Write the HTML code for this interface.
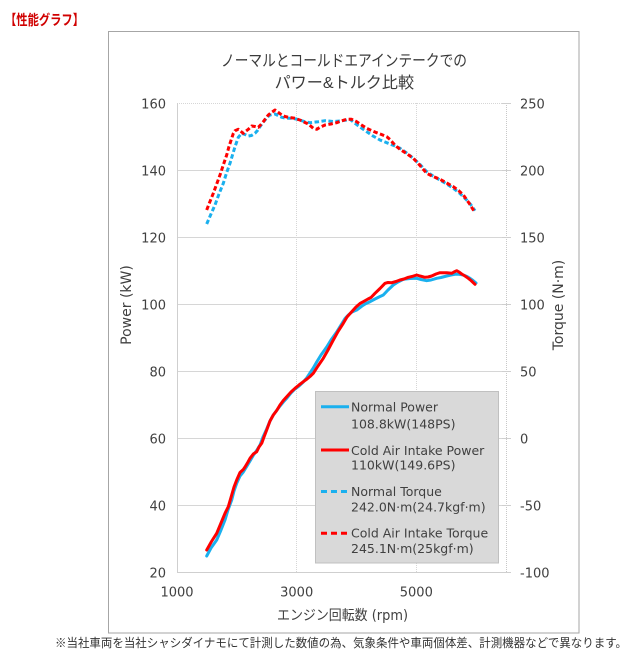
<!DOCTYPE html>
<html><head><meta charset="utf-8"><style>
html,body{margin:0;padding:0;background:#fff;}
svg{display:block;}
</style></head><body>
<svg width="640" height="669" viewBox="0 0 640 669" xmlns="http://www.w3.org/2000/svg">
<rect x="0" y="0" width="640" height="669" fill="#fff"/>
<text x="5" y="25" font-family="'Liberation Sans','Noto Sans CJK JP',sans-serif" font-size="14" font-weight="bold" fill="#d00000" textLength="79" lengthAdjust="spacingAndGlyphs">【性能グラフ】</text>
<rect x="108.5" y="31.5" width="470.5" height="601.5" fill="#fff" stroke="#a6a6a6" stroke-width="1"/>
<g font-family="'Liberation Sans','Noto Sans CJK JP',sans-serif" fill="#3a3a3a">
<text x="221" y="66" font-size="16" textLength="246" lengthAdjust="spacingAndGlyphs">ノーマルとコールドエアインテークでの</text>
<text x="274.6" y="88" font-size="16" textLength="139.5" lengthAdjust="spacingAndGlyphs">パワー&amp;トルク比較</text>
</g>
<!-- grid -->
<g stroke="#d6d6d6" stroke-width="1">
<line x1="177" y1="103.5" x2="506" y2="103.5" stroke-dasharray="1 1"/>
<line x1="177" y1="170.5" x2="506" y2="170.5"/>
<line x1="177" y1="237.5" x2="506" y2="237.5"/>
<line x1="177" y1="304.5" x2="506" y2="304.5"/>
<line x1="177" y1="371.5" x2="506" y2="371.5"/>
<line x1="177" y1="438.5" x2="506" y2="438.5"/>
<line x1="177" y1="505.5" x2="506" y2="505.5"/>
<line x1="296.5" y1="103" x2="296.5" y2="573" stroke-dasharray="1 1"/>
<line x1="416.5" y1="103" x2="416.5" y2="573" stroke-dasharray="1 1"/>
<line x1="506.5" y1="103" x2="506.5" y2="573" stroke-dasharray="1 1" stroke="#c8c8c8"/>
</g>
<g stroke="#cfcfcf" stroke-width="1">
<line x1="177.5" y1="103" x2="177.5" y2="573"/>
<line x1="177" y1="572.5" x2="506" y2="572.5"/>
<line x1="502" y1="103.5" x2="511" y2="103.5"/>
<line x1="502" y1="170.5" x2="511" y2="170.5"/>
<line x1="502" y1="237.5" x2="511" y2="237.5"/>
<line x1="502" y1="304.5" x2="511" y2="304.5"/>
<line x1="502" y1="371.5" x2="511" y2="371.5"/>
<line x1="502" y1="438.5" x2="511" y2="438.5"/>
<line x1="502" y1="505.5" x2="511" y2="505.5"/>
<line x1="502" y1="572.5" x2="511" y2="572.5"/>
</g>
<!-- tick labels -->
<g font-family="'DejaVu Sans','Liberation Sans',sans-serif" font-size="13" fill="#404040">
<g text-anchor="end">
<text x="166" y="108.5">160</text>
<text x="166" y="175.5">140</text>
<text x="166" y="242.5">120</text>
<text x="166" y="309.5">100</text>
<text x="166" y="376.5">80</text>
<text x="166" y="443.5">60</text>
<text x="166" y="510.5">40</text>
<text x="166" y="577.5">20</text>
</g>
<g>
<text x="520" y="108.5">250</text>
<text x="520" y="175.5">200</text>
<text x="520" y="242.5">150</text>
<text x="520" y="309.5">100</text>
<text x="520" y="376.5">50</text>
<text x="520" y="443.5">0</text>
<text x="520" y="510.5">-50</text>
<text x="520" y="577.5">-100</text>
</g>
<g text-anchor="middle">
<text x="177" y="596.5">1000</text>
<text x="296.7" y="596.5">3000</text>
<text x="416.3" y="596.5">5000</text>
</g>
<text transform="translate(131,305) rotate(-90)" text-anchor="middle" font-size="14">Power (kW)</text>
<text transform="translate(563,305) rotate(-90)" text-anchor="middle" font-size="14">Torque (N·m)</text>
</g>
<text x="277" y="620" font-family="'DejaVu Sans','Noto Sans CJK JP',sans-serif" font-size="14" fill="#404040" textLength="131" lengthAdjust="spacingAndGlyphs">エンジン回転数 (rpm)</text>
<!-- torque series -->
<g fill="none" stroke-width="3" stroke-linejoin="round" stroke-dasharray="4.5 2.5">
<polyline stroke="#1ab0ee" points="206.7,224 211,214 215,205 219,194 223.3,183.3 226.5,173 230,163.3 232.5,155 235,146.7 238.3,137.3 241.7,133.3 245,134.5 248.3,136 251.5,135.5 255,133.3 257.5,130.5 260,126.7 262.5,123 265,120 267.5,117 270,115 275,114 278,115.5 281.7,117.3 286.7,118.3 291.7,118.3 296,119 301.7,120.7 306,122 310,122.7 313.3,122.3 318.3,121.7 325,120.7 333,121.5 340,121 346.7,120 350,119.3 355,123.3 360.7,127.5 366.7,131.7 373,136 380,140 385,142 390,144 395,146 400,148.3 406,152.5 413.3,158.3 420,164.5 426.7,171.7 433,176 440,180 446.7,184 453.3,188.3 460,193.5 466.7,200 471,205 475,210.7"/>
<polyline stroke="#ff0000" points="206.7,210 210,201.5 213.3,193.3 216.7,184 220,175 223.3,165 226.7,155 229,146.5 231.7,138.3 233.3,133.5 235,130.7 238.3,129.3 241,131.5 243.3,133.3 246,131 248.3,129.3 251.7,126 255,126.5 258.3,127.3 261,124.5 263.3,121.7 266,118 268.3,115 271.5,112.5 275,110 278.5,112.5 281.7,115 285,116.5 288.3,117.3 295,118.3 301.7,120.7 305,122.5 308.3,124 313.3,128.3 316.7,129.3 320,127.3 325,125 331,124 336.7,122.7 341,121 346.7,119.3 351.7,119.3 356.7,121.7 361.5,125 366.7,128.3 371.5,130.5 376.7,132.7 381.5,134.5 386.7,136.7 390,139.5 393.3,143.3 396.5,146.5 400,149.3 406.5,153.5 413.3,158.3 420,165.5 426.7,173.3 433,176.5 440,179.3 446.7,183 453.3,186.7 458.5,190.5 463.3,195 469,203 475,212.7"/>
</g>
<!-- power series -->
<g fill="none" stroke-width="3" stroke-linejoin="round" stroke-linecap="round">
<polyline stroke="#1ab0ee" points="206.7,556 211,548 216.7,540 221,530 225,520 228,510 231.7,500 234,491 236.7,483.3 240,476 243.3,472 247,466 250,461 253.5,455 257,450 260,445 263,437 266.7,429 270,421 273.3,415 277,410 280,406 283.3,402 287,398 291,393 295,389 299,386 303.3,382 306.7,378 310,373 313.3,368 316.7,362 321,355 326.7,347 331,340 336.7,332 341,325 345,318.5 348.3,315 352,312 356.7,310 362,306 366,303.5 370,301.7 375,299 380,296.5 383.3,295 388,290 393.3,285 398,282 403.3,279.3 410,278.5 416.7,278.3 421,279.5 426.7,280.7 431,280 436.7,278.3 441,277.5 446.7,276 451,275 455,274.3 459,274.3 463.3,275 467,276.5 470,278.3 473,280.5 476,283"/>
<polyline stroke="#ff0000" points="206.7,550 211.5,541.5 216.7,533.3 221,523 225,513.3 228.3,506.7 231.7,495 234,487 236.7,480 240,472.5 243.3,469.5 245,467 248,462 250,458.3 253.3,454 256.7,451.7 259,447 261.7,443.3 264,437 266.7,430 270,421 273.3,415 276.7,410.5 280,405 283.3,400.5 286.7,396.7 291,392 295,388.3 299,385 303.3,381.7 307,379 310,376.5 313.3,373.3 318,366 323.3,358.3 328,350 333.3,340 338,331.5 343.3,323.3 347,317 351.7,311.7 356,307 360,303.5 363.3,301.7 368,299 371,297.5 375,293.3 380,288.5 385,283.3 388,282.5 391.7,282.7 396,281.5 400,280 404,279 408.3,277.3 412,276.5 416.7,275 420,276 425,277.3 428,277 431.7,276 436,274 440,272.7 446.7,272.7 451.7,273.3 454,272 456.7,270.7 459,272 461.7,274 465,276 468.3,278.3 471,280.5 475,284.3"/>
</g>
<!-- legend -->
<rect x="315.5" y="391.5" width="183" height="171.5" fill="#d9d9d9" stroke="#c0c0c0" stroke-width="1"/>
<g stroke-width="3" fill="none">
<line x1="321" y1="406.7" x2="349" y2="406.7" stroke="#1ab0ee"/>
<line x1="321" y1="450" x2="349" y2="450" stroke="#ff0000"/>
<line x1="321" y1="491.5" x2="349" y2="491.5" stroke="#1ab0ee" stroke-dasharray="6 4"/>
<line x1="321" y1="533.3" x2="349" y2="533.3" stroke="#ff0000" stroke-dasharray="6 4"/>
</g>
<g font-family="'DejaVu Sans','Liberation Sans',sans-serif" font-size="12.5" fill="#404040">
<text x="351" y="411.7">Normal Power</text>
<text x="351" y="428.3">108.8kW(148PS)</text>
<text x="351" y="455">Cold Air Intake Power</text>
<text x="351" y="469.5">110kW(149.6PS)</text>
<text x="351" y="496">Normal Torque</text>
<text x="351" y="511.5">242.0N·m(24.7kgf·m)</text>
<text x="351" y="537.7">Cold Air Intake Torque</text>
<text x="351" y="553">245.1N·m(25kgf·m)</text>
</g>
<text x="55" y="647" font-family="'Liberation Sans','Noto Sans CJK JP',sans-serif" font-size="12" fill="#333" textLength="572" lengthAdjust="spacingAndGlyphs">※当社車両を当社シャシダイナモにて計測した数値の為、気象条件や車両個体差、計測機器などで異なります。</text>
</svg>
</body></html>
